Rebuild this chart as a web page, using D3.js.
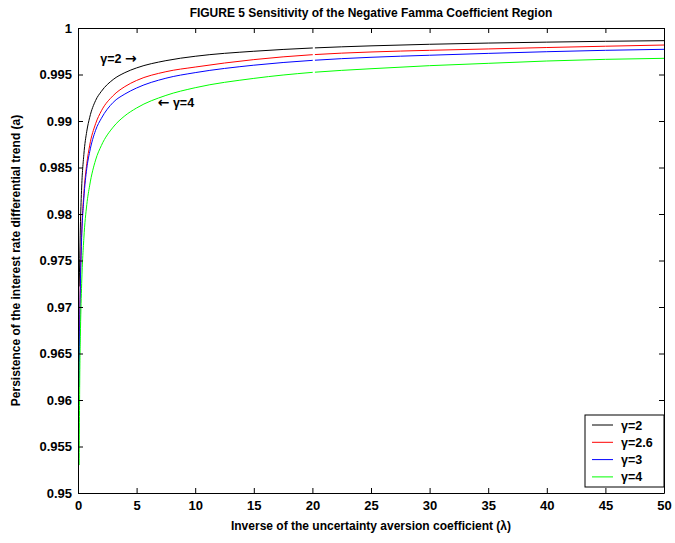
<!DOCTYPE html>
<html>
<head>
<meta charset="utf-8">
<script src="https://cdn.jsdelivr.net/npm/d3@7"></script>
<style>
	body { margin: 0; background: #fff; }
	svg text { font-family: Arial, "Liberation Sans", Helvetica, sans-serif; font-weight: bold; fill: #000; }
</style>
</head>
<body>
<div id="chart"></div>
<script>
// inverse of the uncertainty aversion coefficient (lambda)
var lambdas = [0.1, 0.15, 0.2, 0.3, 0.5, 0.75, 1, 1.5, 2, 3, 4, 5, 7.5, 10, 15, 20, 25, 30, 35, 40, 45, 50];

// persistence (a), one array per gamma
var gamma2  = [0.9722, 0.9752, 0.9785, 0.9825, 0.9864, 0.9889, 0.9904, 0.9922, 0.9932, 0.99446, 0.9952, 0.99571, 0.99649, 0.99696, 0.99750, 0.99785, 0.99808, 0.99825, 0.99838, 0.99848, 0.99857, 0.99864];
var gamma26 = [0.9655, 0.9692, 0.9728, 0.9775, 0.9822, 0.9854, 0.9874, 0.9897, 0.9911, 0.99273, 0.9937, 0.99436, 0.99530, 0.99580, 0.99660, 0.99713, 0.99742, 0.99760, 0.99775, 0.99790, 0.99804, 0.99817];
var gamma3  = [0.9614, 0.9680, 0.9722, 0.9770, 0.9817, 0.9849, 0.9867, 0.9890, 0.9903, 0.9920, 0.9929, 0.99355, 0.9946, 0.9952, 0.9960, 0.99652, 0.99685, 0.99707, 0.99727, 0.99745, 0.99760, 0.99771];
var gamma4  = [0.9530, 0.9625, 0.9668, 0.9720, 0.9774, 0.9810, 0.9831, 0.9858, 0.98738, 0.98934, 0.99056, 0.9914, 0.99275, 0.99358, 0.99458, 0.99523, 0.99562, 0.99595, 0.99620, 0.99645, 0.99663, 0.99674];

var seriesNames = ["\u03b3=2", "\u03b3=2.6", "\u03b3=3", "\u03b3=4"];
var seriesColors = ["#000000", "#ff0000", "#0000ff", "#00ff00"];
var seriesValues = [gamma2, gamma26, gamma3, gamma4];

var xTicks = [0, 5, 10, 15, 20, 25, 30, 35, 40, 45, 50];
var yTicks = [0.95, 0.955, 0.96, 0.965, 0.97, 0.975, 0.98, 0.985, 0.99, 0.995, 1];

var width = 675, height = 543;
var margin = {top: 28, right: 11, bottom: 50, left: 78};
var innerW = width - margin.left - margin.right;
var innerH = height - margin.top - margin.bottom;

var svg = d3.select("#chart").append("svg")
	.attr("width", width)
	.attr("height", height);

var x = d3.scaleLinear().domain([0, 50]).range([0, innerW]);
var y = d3.scaleLinear().domain([0.95, 1]).range([innerH, 0]);

var g = svg.append("g").attr("transform", "translate(" + margin.left + "," + margin.top + ")");

// clip lines to the axes box
g.append("clipPath").attr("id", "plotclip")
	.append("rect").attr("width", innerW).attr("height", innerH);

// the original plot was drawn in two pieces, leaving a small break at lambda = 20
var mask = g.append("mask").attr("id", "breakmask");
mask.append("rect").attr("x", -5).attr("y", -5).attr("width", innerW + 10).attr("height", innerH + 10).attr("fill", "#fff");
mask.append("rect").attr("x", x(20) + 0.5).attr("y", 0).attr("width", 2).attr("height", innerH).attr("fill", "#000");

var line = d3.line()
	.x(function(d) { return x(d[0]); })
	.y(function(d) { return y(d[1]); })
	.curve(d3.curveMonotoneX);

var lines = g.append("g").attr("clip-path", "url(#plotclip)").attr("mask", "url(#breakmask)");
seriesValues.forEach(function(vals, i) {
	var pts = lambdas.map(function(l, j) { return [l, vals[j]]; });
	lines.append("path")
		.datum(pts)
		.attr("fill", "none")
		.attr("stroke", seriesColors[i])
		.attr("stroke-width", 1)
		.attr("d", line);
});

// matlab style axes: ticks pointing inward on all four sides
var tickLen = 5;
var xAxisB = d3.axisBottom(x).tickValues(xTicks).tickSizeInner(-tickLen).tickSizeOuter(0).tickPadding(8);
var xAxisT = d3.axisTop(x).tickValues(xTicks).tickSizeInner(-tickLen).tickSizeOuter(0).tickFormat("");
var yAxisL = d3.axisLeft(y).tickValues(yTicks).tickSizeInner(-tickLen).tickSizeOuter(0).tickPadding(6).tickFormat(d3.format("~g"));
var yAxisR = d3.axisRight(y).tickValues(yTicks).tickSizeInner(-tickLen).tickSizeOuter(0).tickFormat("");

g.append("g").attr("transform", "translate(0," + innerH + ")").call(xAxisB);
g.append("g").call(xAxisT);
g.append("g").call(yAxisL);
g.append("g").attr("transform", "translate(" + innerW + ",0)").call(yAxisR);

g.selectAll(".domain").attr("stroke", "#000").attr("stroke-width", 1);
g.selectAll(".tick line").attr("stroke", "#000");
g.selectAll(".tick text").style("font-size", "13px").style("font-family", "Arial, 'Liberation Sans', sans-serif").style("font-weight", "bold");

// title and axis labels
svg.append("text")
	.attr("x", margin.left + innerW / 2)
	.attr("y", 17)
	.attr("text-anchor", "middle")
	.style("font-size", "12px")
	.text("FIGURE 5 Sensitivity of the Negative Famma Coefficient Region");

svg.append("text")
	.attr("x", margin.left + innerW / 2)
	.attr("y", 530)
	.attr("text-anchor", "middle")
	.style("font-size", "12px")
	.text("Inverse of the uncertainty aversion coefficient (\u03bb)");

svg.append("text")
	.attr("transform", "translate(20," + (margin.top + innerH / 2) + ") rotate(-90)")
	.attr("text-anchor", "middle")
	.style("font-size", "12px")
	.text("Persistence of the interest rate differential trend (a)");

// in-plot annotations
var note1 = g.append("text")
	.attr("x", x(1.9))
	.attr("y", y(0.99624))
	.style("font-size", "12.5px");
note1.append("tspan").text("\u03b3=2 ");
note1.append("tspan").style("font-family", "'DejaVu Sans', sans-serif").style("font-size", "14px").text("\u2192");

var note2 = g.append("text")
	.attr("x", x(6.8))
	.attr("y", y(0.9915))
	.style("font-size", "12.5px");
note2.append("tspan").style("font-family", "'DejaVu Sans', sans-serif").style("font-size", "14px").text("\u2190");
note2.append("tspan").text(" \u03b3=4");

// legend
var legend = g.append("g").attr("transform", "translate(" + (innerW - 79) + "," + (innerH - 78) + ")");
legend.append("rect")
	.attr("width", 79).attr("height", 72)
	.attr("fill", "#fff").attr("stroke", "#000").attr("stroke-width", 1);

seriesNames.forEach(function(name, i) {
	var row = legend.append("g").attr("transform", "translate(0," + (10 + i * 17.3) + ")");
	row.append("line")
		.attr("x1", 7).attr("x2", 28)
		.attr("stroke", seriesColors[i]).attr("stroke-width", 1);
	row.append("text")
		.attr("x", 36).attr("y", 4.5)
		.style("font-size", "12.5px")
		.text(name);
});
</script>
</body>
</html>
